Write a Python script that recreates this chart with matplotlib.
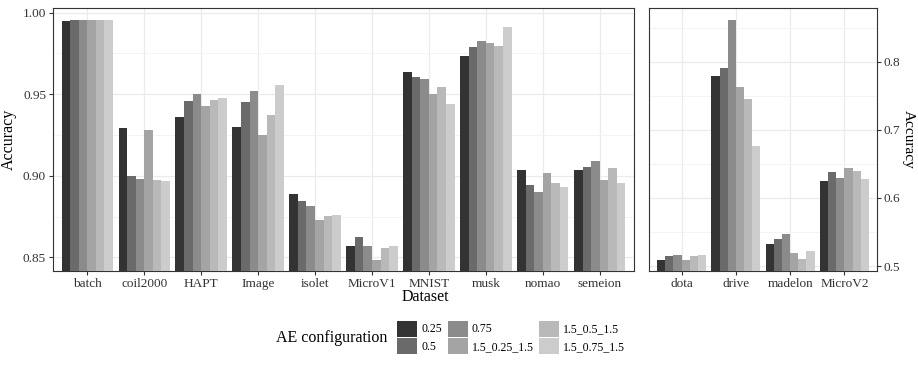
import numpy as np
import matplotlib
matplotlib.use('Agg')
import matplotlib.pyplot as plt
from matplotlib.patches import Patch
from matplotlib.ticker import MultipleLocator

plt.rcParams['font.family'] = ['Liberation Serif', 'DejaVu Serif']

configs = ['0.25', '0.5', '0.75', '1.5_0.25_1.5', '1.5_0.5_1.5', '1.5_0.75_1.5']

left_sets = ['batch', 'coil2000', 'HAPT', 'Image', 'isolet', 'MicroV1',
             'MNIST', 'musk', 'nomao', 'semeion']
left_vals = [
    [0.9951, 0.9955, 0.9955, 0.9955, 0.9955, 0.9955],
    [0.929, 0.900, 0.898, 0.928, 0.8974, 0.8968],
    [0.9359, 0.946, 0.950, 0.9428, 0.9465, 0.9479],
    [0.930, 0.945, 0.952, 0.9248, 0.9375, 0.9557],
    [0.8889, 0.8848, 0.8815, 0.8729, 0.8756, 0.876],
    [0.857, 0.8623, 0.857, 0.8484, 0.8556, 0.857],
    [0.9635, 0.9606, 0.9594, 0.950, 0.9543, 0.944],
    [0.9736, 0.979, 0.9827, 0.9816, 0.9796, 0.991],
    [0.9036, 0.8942, 0.890, 0.9017, 0.8956, 0.8934],
    [0.9038, 0.9054, 0.9089, 0.8974, 0.9048, 0.8958],
]

right_sets = ['dota', 'drive', 'madelon', 'MicroV2']
right_vals = [
    [0.5088, 0.5151, 0.5161, 0.5093, 0.5147, 0.5157],
    [0.7786, 0.7903, 0.8607, 0.7625, 0.7454, 0.6764],
    [0.5318, 0.5396, 0.5469, 0.519, 0.5098, 0.5225],
    [0.625, 0.6374, 0.6286, 0.6437, 0.6389, 0.628],
]

# ggplot scale_fill_grey palette
g = np.linspace(0.2 ** 2.2, 0.8 ** 2.2, 6) ** (1 / 2.2)
colors = [(v, v, v) for v in g]

W, H = 918, 368
fig = plt.figure(figsize=(W / 100, H / 100), dpi=100)


def px_axes(x0, x1, y0, y1):
    return fig.add_axes([x0 / W, 1 - y1 / H, (x1 - x0) / W, (y1 - y0) / H])


def draw(ax, names, vals):
    vals = np.array(vals)
    n = len(names)
    w = 0.9 / 6
    x = np.arange(n)
    for j in range(6):
        ax.bar(x - 0.45 + w * (j + 0.5), vals[:, j], width=w, color=colors[j],
               zorder=3, linewidth=0)
    ax.set_xlim(-0.6, n - 0.4)
    ax.set_xticks(x)
    ax.set_xticklabels(names, fontsize=9.5, color='#333333')
    ax.grid(True, which='major', color='#ebebeb', linewidth=0.9, zorder=0)
    ax.grid(True, which='minor', axis='y', color='#f3f3f3', linewidth=0.6, zorder=0)
    for s in ax.spines.values():
        s.set_color('#333333')
        s.set_linewidth(0.8)
    ax.tick_params(length=3, color='#333333', labelcolor='#333333', labelsize=9.5,
                   pad=2)
    ax.tick_params(which='minor', length=0)


ax1 = px_axes(53, 634, 8, 271)
draw(ax1, left_sets, left_vals)
ax1.set_ylim(0.8416, 1.0029)
ax1.yaxis.set_minor_locator(MultipleLocator(0.025))
ax1.set_yticks([0.85, 0.90, 0.95, 1.00])
ax1.set_yticklabels(['0.85', '0.90', '0.95', '1.00'])
ax1.set_ylabel('Accuracy', fontsize=11.5, labelpad=4)

ax2 = px_axes(649, 877, 8, 271)
draw(ax2, right_sets, right_vals)
ax2.set_ylim(0.4927, 0.879)
ax2.set_yticks([0.5, 0.6, 0.7, 0.8])
ax2.set_yticklabels(['0.5', '0.6', '0.7', '0.8'])
ax2.yaxis.set_minor_locator(MultipleLocator(0.05))
ax2.yaxis.tick_right()
ax2.yaxis.set_label_position('right')
ax2.set_ylabel('Accuracy', fontsize=11, rotation=270, labelpad=10.5)

fig.text(425 / W, 1 - 297 / H, 'Dataset', fontsize=11.5, ha='center', va='center')

handles = [Patch(facecolor=c, edgecolor='none') for c in colors]
fig.legend(handles, configs, ncol=3, loc='center left',
           bbox_to_anchor=(389 / W, 1 - 337.5 / H), frameon=False,
           fontsize=8.5, handlelength=1.7, handleheight=1.7,
           handletextpad=0.35, columnspacing=0.45, labelspacing=0.15,
           borderpad=0.2)
fig.text(387 / W, 1 - 338 / H, 'AE configuration', fontsize=11.5,
         ha='right', va='center')

fig.savefig('out.png', dpi=100)
